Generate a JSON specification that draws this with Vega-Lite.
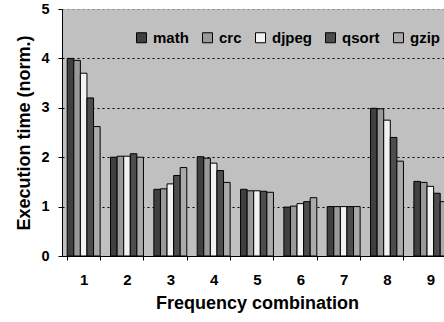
{
  "$schema": "https://vega.github.io/schema/vega-lite/v6.json",
  "autosize": "none",
  "width": 390,
  "height": 247,
  "padding": {"left": 62, "top": 9, "right": 0, "bottom": 66},
  "background": "white",
  "config": {
    "view": {"fill": "#c0c0c0", "stroke": null},
    "font": "Liberation Sans",
    "legend": {"padding": 0}
  },
  "data": {
    "values": [
      {"combo": "1", "bench": "math", "value": 4.0},
      {"combo": "1", "bench": "crc", "value": 3.96},
      {"combo": "1", "bench": "djpeg", "value": 3.7},
      {"combo": "1", "bench": "qsort", "value": 3.2},
      {"combo": "1", "bench": "gzip", "value": 2.62},
      {"combo": "2", "bench": "math", "value": 2.0},
      {"combo": "2", "bench": "crc", "value": 2.02},
      {"combo": "2", "bench": "djpeg", "value": 2.02},
      {"combo": "2", "bench": "qsort", "value": 2.07},
      {"combo": "2", "bench": "gzip", "value": 2.0},
      {"combo": "3", "bench": "math", "value": 1.35},
      {"combo": "3", "bench": "crc", "value": 1.36},
      {"combo": "3", "bench": "djpeg", "value": 1.46},
      {"combo": "3", "bench": "qsort", "value": 1.63},
      {"combo": "3", "bench": "gzip", "value": 1.79},
      {"combo": "4", "bench": "math", "value": 2.01},
      {"combo": "4", "bench": "crc", "value": 1.98},
      {"combo": "4", "bench": "djpeg", "value": 1.88},
      {"combo": "4", "bench": "qsort", "value": 1.73},
      {"combo": "4", "bench": "gzip", "value": 1.49},
      {"combo": "5", "bench": "math", "value": 1.35},
      {"combo": "5", "bench": "crc", "value": 1.32},
      {"combo": "5", "bench": "djpeg", "value": 1.32},
      {"combo": "5", "bench": "qsort", "value": 1.31},
      {"combo": "5", "bench": "gzip", "value": 1.29},
      {"combo": "6", "bench": "math", "value": 0.99},
      {"combo": "6", "bench": "crc", "value": 1.01},
      {"combo": "6", "bench": "djpeg", "value": 1.06},
      {"combo": "6", "bench": "qsort", "value": 1.1},
      {"combo": "6", "bench": "gzip", "value": 1.18},
      {"combo": "7", "bench": "math", "value": 1.0},
      {"combo": "7", "bench": "crc", "value": 1.0},
      {"combo": "7", "bench": "djpeg", "value": 1.0},
      {"combo": "7", "bench": "qsort", "value": 1.0},
      {"combo": "7", "bench": "gzip", "value": 1.0},
      {"combo": "8", "bench": "math", "value": 2.99},
      {"combo": "8", "bench": "crc", "value": 2.98},
      {"combo": "8", "bench": "djpeg", "value": 2.75},
      {"combo": "8", "bench": "qsort", "value": 2.4},
      {"combo": "8", "bench": "gzip", "value": 1.92},
      {"combo": "9", "bench": "math", "value": 1.51},
      {"combo": "9", "bench": "crc", "value": 1.49},
      {"combo": "9", "bench": "djpeg", "value": 1.41},
      {"combo": "9", "bench": "qsort", "value": 1.27},
      {"combo": "9", "bench": "gzip", "value": 1.1}
    ]
  },
  "mark": {"type": "bar", "stroke": "black", "strokeWidth": 1},
  "encoding": {
    "x": {
      "field": "combo", "type": "nominal",
      "scale": {"paddingInner": 0.24, "paddingOuter": 0.12},
      "axis": {
        "title": "Frequency combination", "labelAngle": 0,
        "labelFont": "Liberation Sans", "labelFontWeight": "bold", "labelFontSize": 15, "labelColor": "black",
        "titleFont": "Liberation Sans", "titleFontWeight": "bold", "titleFontSize": 18, "titleColor": "black",
        "domainColor": "black", "tickColor": "black", "tickBand": "extent", "tickSize": 4,
        "labelPadding": 12, "titlePadding": 7
      }
    },
    "xOffset": {"field": "bench", "type": "nominal", "sort": ["math", "crc", "djpeg", "qsort", "gzip"]},
    "y": {
      "field": "value", "type": "quantitative",
      "scale": {"domain": [0, 5], "nice": false},
      "axis": {
        "title": "Execution time (norm.)", "values": [0, 1, 2, 3, 4, 5],
        "labelFont": "Liberation Sans", "labelFontWeight": "bold", "labelFontSize": 14.5, "labelColor": "black",
        "titleFont": "Liberation Sans", "titleFontWeight": "bold", "titleFontSize": 18, "titleColor": "black",
        "domainColor": "black", "tickColor": "black", "tickSize": 4, "labelPadding": 9, "titlePadding": 7,
        "grid": true, "gridDash": [2, 3],
        "gridColor": {"condition": {"test": "datum.value == 5", "value": "#888888"}, "value": "black"}
      }
    },
    "fill": {
      "field": "bench", "type": "nominal",
      "scale": {"domain": ["math", "crc", "djpeg", "qsort", "gzip"], "range": ["#404040", "#999999", "#f2f2f2", "#4d4d4d", "#aaaaaa"]},
      "legend": {
        "title": null, "orient": "none", "legendX": 72, "legendY": 21,
        "direction": "horizontal", "columns": 5,
        "symbolType": "square", "symbolSize": 100, "symbolStrokeColor": "black", "symbolStrokeWidth": 1,
        "labelFont": "Liberation Sans", "labelFontWeight": "bold", "labelFontSize": 15, "labelColor": "black",
        "labelOffset": 4, "columnPadding": 11
      }
    }
  }
}
